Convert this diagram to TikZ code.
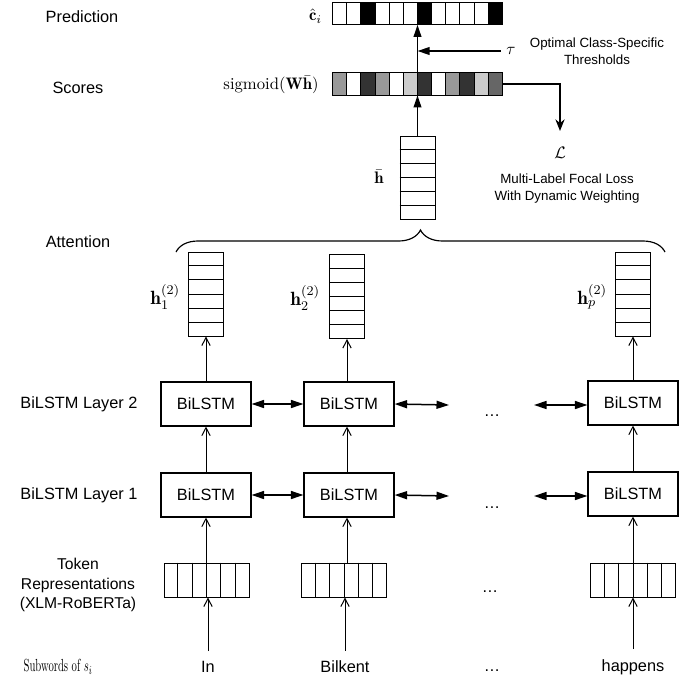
\documentclass[tikz,border=0pt]{standalone}
\usepackage{fontspec}
\usepackage{amsmath}
\usepackage{graphicx}
\newfontfamily\lblfont{Liberation Sans}
\usetikzlibrary{arrows.meta,calc,decorations.pathreplacing}

\tikzset{
  txt/.style={font=\lblfont\fontsize{9.8}{11.8}\selectfont, inner sep=1pt},
  note/.style={font=\lblfont\fontsize{8}{10.2}\selectfont, align=center, inner sep=1pt},
  mth/.style={inner sep=1pt},
  hlbl/.style={inner sep=1pt, anchor=east, font=\fontsize{11.5}{13}\selectfont},
  lstm/.style={draw, line width=0.7pt, minimum width=54pt, minimum height=26.4pt, inner sep=0pt,
    font=\lblfont\fontsize{9.8}{11.8}\selectfont},
  colvec/.style={draw, line width=0.6pt, minimum width=21pt, minimum height=50.4pt, inner sep=0pt},
  rowvec/.style={draw, line width=0.6pt, minimum width=51pt, minimum height=20.4pt, inner sep=0pt},
  bar/.style={minimum width=101.4pt, minimum height=13.2pt, inner sep=0pt},
  up/.style={-{Straight Barb[length=4.8pt,width=5pt]}, line width=0.6pt},
  bi/.style={{Triangle[length=7.5pt,width=4.8pt]}-{Triangle[length=7.5pt,width=4.8pt]}, line width=0.9pt},
  big/.style={-{Triangle[length=7.2pt,width=4.6pt]}, line width=0.9pt},
}

\begin{document}
\begin{tikzpicture}[x=0.6pt,y=-0.6pt]
\useasboundingbox (0,0) rectangle (699,681);

% prediction and scores
\node[txt] (predlbl) at (82,17) {Prediction};
\node[txt] (sclbl) at (78,88) {Scores};
\node[bar] (pred) at (417.5,13.5) {};
\node[bar] (sc) at (417.5,84) {};
\node[mth, anchor=east] (chat) at (324,16) {$\hat{\mathbf{c}}_i$};
\node[mth] (sig) at (271,85) {$\mathrm{sigmoid}(\mathbf{W}\bar{\mathbf{h}})$};

\foreach \c [count=\k] in {white,white,black,white,white,white,black,white,white,white,white,black}
  \draw[line width=0.6pt, fill=\c] ($(pred.north west)!{(\k-1)/12}!(pred.north east)$) rectangle ($(pred.south west)!{\k/12}!(pred.south east)$);
\foreach \c [count=\k] in {black!40,white,black!80,black!40,white,black!20,black!80,white,black!40,black!80,black!20,black!60}
  \draw[line width=0.6pt, fill=\c] ($(sc.north west)!{(\k-1)/12}!(sc.north east)$) rectangle ($(sc.south west)!{\k/12}!(sc.south east)$);

\draw[big] (sc.north) -- (pred.south);
\node (tau) at (511,51) {$\tau$};
\node[note] (thr) at (597,51.5) {Optimal Class-Specific\\Thresholds};
\draw[big] (tau.west) -- (tau.west -| sc.north);

\node[mth] (loss) at (560,153) {$\mathcal{L}$};
\coordinate (lossin) at (560,131);
\draw[-{Stealth[length=7pt,width=5.5pt]}, line width=0.8pt] (sc.east) -| (lossin);
\node[note] (focal) at (567,188.5) {Multi-Label Focal Loss\\With Dynamic Weighting};

% attention
\node[colvec, minimum height=49.8pt] (hbar) at (417.5,177.5) {};
\node[mth] (hbarlbl) at (379,177) {$\bar{\mathbf{h}}$};
\draw[big] (hbar.north) -- (sc.south);

\node[txt] (attlbl) at (78,242) {Attention};
\coordinate (brL) at (176,252);
\coordinate (brR) at (665,252);
\draw[line width=0.7pt, decorate, decoration={brace, amplitude=13.2pt}] (brL) -- (brR);

\node[colvec] (h1) at (206,294) {};
\node[colvec] (h2) at (347,296.5) {};
\node[colvec] (hp) at (633,294) {};
\node[hlbl] (h1lbl) at (182,297) {$\mathbf{h}_1^{(2)}$};
\node[hlbl] (h2lbl) at (322,298) {$\mathbf{h}_2^{(2)}$};
\node[hlbl] (hplbl) at (609,297) {$\mathbf{h}_p^{(2)}$};

\foreach \v in {hbar,h1,h2,hp}
  \foreach \k in {1,...,5}
    \draw[line width=0.6pt] ($(\v.north west)!{\k/6}!(\v.south west)$) -- ($(\v.north east)!{\k/6}!(\v.south east)$);

% bilstm layers
\node[txt] (l2lbl) at (79,404) {BiLSTM Layer 2};
\node[txt] (l1lbl) at (79,495) {BiLSTM Layer 1};
\node[lstm] (b21) at (206,404) {BiLSTM};
\node[lstm] (b22) at (349,404) {BiLSTM};
\node[lstm] (b23) at (633,403) {BiLSTM};
\node[lstm] (b11) at (206,495) {BiLSTM};
\node[lstm] (b12) at (349,495) {BiLSTM};
\node[lstm] (b13) at (633,494) {BiLSTM};
\node[txt] (dots2) at (492,416) {\dots};
\node[txt] (dots1) at (492,508) {\dots};

\coordinate (r2a) at (449,405);
\coordinate (r2b) at (534,405);
\coordinate (r1a) at (449,496);
\coordinate (r1b) at (534,496);
\draw[bi] (b21.east) -- (b22.west);
\draw[bi] (b22.east) -- (r2a);
\draw[bi] (r2b) -- (b23.west |- r2b);
\draw[bi] (b11.east) -- (b12.west);
\draw[bi] (b12.east) -- (r1a);
\draw[bi] (r1b) -- (b13.west |- r1b);

\draw[up] (b21.north) -- (h1.south);
\draw[up] (b22.north -| h2.south) -- (h2.south);
\draw[up] (b23.north) -- (hp.south);
\draw[up] (b11.north) -- (b21.south);
\draw[up] (b12.north -| h2.south) -- (b22.south -| h2.south);
\draw[up] (b13.north) -- (b23.south);

% token representations
\node[txt, align=center, font=\lblfont\fontsize{9.4}{11.7}\selectfont] (toklbl) at (78,585) {Token\\Representations\\(XLM-RoBERTa)};
\node[rowvec] (t1) at (206.5,580) {};
\node[rowvec] (t2) at (344,580) {};
\node[rowvec] (t3) at (633,580) {};
\node[txt] (dots0) at (490,592) {\dots};
\foreach \v in {t1,t2,t3}
  \foreach \k in {1,...,5}
    \draw[line width=0.6pt] ($(\v.north west)!{\k/6}!(\v.north east)$) -- ($(\v.south west)!{\k/6}!(\v.south east)$);

\draw[up] (t1.north -| b11.south) -- (b11.south);
\draw[up] (t2.north -| h2.south) -- (b12.south -| h2.south);
\draw[up] (t3.north) -- (b13.south);

% subwords
\node (subw) at (58,667) {\scalebox{0.64}[1.05]{Subwords of $s_i$}};
\node[txt] (w1) at (208,667) {In};
\node[txt] (w2) at (345,667) {Bilkent};
\node[txt] (w3) at (492,671) {\dots};
\node[txt] (w4) at (633,667) {happens};

\draw[up, shorten <=5pt] (w1.north) -- (w1.north |- t1.south);
\draw[up, shorten <=5pt] (w2.north) -- (w2.north |- t2.south);
\draw[up, shorten <=5pt] (w4.north) -- (t3.south);
\end{tikzpicture}
\end{document}
